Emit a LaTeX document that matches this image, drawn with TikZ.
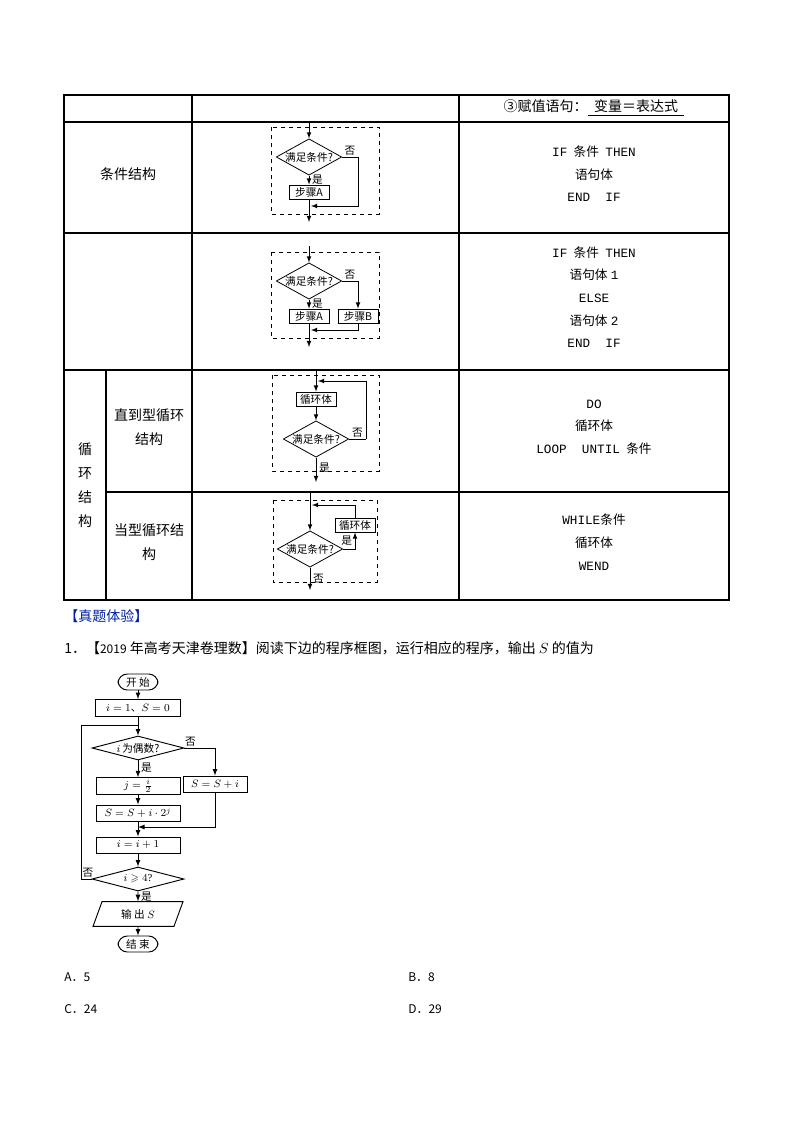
\documentclass[tikz,border=0pt]{standalone}
\usepackage{amssymb}
\usepackage{fontspec}
\setmainfont{Liberation Serif}
\newfontfamily\cjk{Noto Sans CJK SC}
\newfontfamily\mon{Liberation Mono}
\usetikzlibrary{shapes.geometric}
\tikzset{
 tl/.style={line width=0.8pt},
 dbox/.style={draw,dashed,line width=0.7pt},
 fc/.style={draw,line width=0.6pt,font=\cjk\fontsize{8}{9}\selectfont,inner sep=1pt},
 dia/.style={fc,diamond,aspect=1.8,minimum width=62\px,minimum height=34\px,inner sep=0pt},
 bx/.style={fc,rectangle,minimum width=40\px,minimum height=14\px},
 ar/.style={-latex,line width=0.6pt},
 ln/.style={line width=0.6pt},
 lab/.style={font=\cjk\fontsize{8}{9}\selectfont,inner sep=0pt},
 ct/.style={font=\cjk\fontsize{10.5}{12}\selectfont,align=center},
 cd/.style={font=\fontsize{9.5}{12}\selectfont,align=center},
}
\newcommand{\px}{*0.75pt}
\begin{document}
\begin{tikzpicture}[x=0.75pt,y=-0.75pt]
\useasboundingbox (0,0) rectangle (794,1123);
% table
\draw[tl] (64,95) rectangle (729,600);
\foreach \y in {122,233,370} \draw[tl] (64,\y)--(729,\y);
\draw[tl] (106,492)--(729,492);
\draw[tl] (192,95)--(192,600);
\draw[tl] (459,95)--(459,600);
\draw[tl] (106,370)--(106,600);
% column texts
\node[ct] (t0) at (594,108) {③赋值语句：\underline{\ \ 变量＝表达式\ \ }};
\node[ct] (t1) at (128,174) {条件结构};
\node[ct] (t2) at (85,485) {循\\[6pt]环\\[6pt]结\\[6pt]构};
\node[ct] (t3) at (149,427) {直到型循环\\[6pt]结构};
\node[ct] (t4) at (149,542) {当型循环结\\[6pt]构};
% code
\node[cd] (c1) at (594,174) {{\mon IF}\ \ {\cjk 条件}\ \ {\mon THEN}\\[5pt]{\cjk 语句体}\\[5pt]{\mon END\ \ IF}};
\node[cd] (c2) at (594,297) {{\mon IF}\ \ {\cjk 条件}\ \ {\mon THEN}\\[5pt]{\cjk 语句体} {\mon 1}\\[5pt]{\mon ELSE}\\[5pt]{\cjk 语句体} {\mon 2}\\[5pt]{\mon END\ \ IF}};
\node[cd] (c3) at (594,427) {{\mon DO}\\[5pt]{\cjk 循环体}\\[5pt]{\mon LOOP\ \ UNTIL}\ \ {\cjk 条件}};
\node[cd] (c4) at (594,542) {{\mon WHILE}{\cjk 条件}\\[5pt]{\cjk 循环体}\\[5pt]{\mon WEND}};
% flowchart 1
\draw[dbox] (271,127) rectangle (379,214);
\node[dia] (d1) at (309,157) {满足条件?};
\node[bx] (a1) at (309,192) {步骤\textit{A}};
\coordinate (e1) at (309,122);
\coordinate (o1) at (309,222);
\draw[ar] (e1)--(d1.north);
\draw[ar] (d1.south)--(a1.north) node[lab,pos=0.5,right=2pt] {是};
\draw[ln] (d1.east)--(358,157) node[lab,pos=0.5,above=1pt] {否};
\draw[ar] (358,157)--(358,206)--(311,206);
\draw[ar] (a1.south)--(o1);
% flowchart 2
\draw[dbox] (271,252) rectangle (379,338);
\node[dia] (d2) at (309,281) {满足条件?};
\node[bx] (a2) at (309,316) {步骤\textit{A}};
\node[bx] (b2) at (358,316) {步骤\textit{B}};
\coordinate (e2) at (309,246);
\coordinate (o2) at (309,347);
\draw[ar] (e2)--(d2.north);
\draw[ar] (d2.south)--(a2.north) node[lab,pos=0.5,right=2pt] {是};
\draw[ar] (d2.east)-|(b2.north) node[lab,pos=0.25,above=1pt] {否};
\draw[ar] (b2.south)|-(311,330);
\draw[ar] (a2.south)--(o2);
% flowchart 3
\draw[dbox] (272,375) rectangle (379,471);
\node[bx] (l3) at (316,399) {循环体};
\node[dia] (d3) at (316,439) {满足条件?};
\coordinate (e3) at (316,370);
\coordinate (o3) at (316,482);
\draw[ar] (e3)--(l3.north);
\draw[ar] (l3.south)--(d3.north);
\draw[ln] (d3.east)--(366,439) node[lab,pos=0.5,above=1pt] {否};
\draw[ar] (366,439)--(366,381)--(318,381);
\draw[ar] (d3.south)--(o3) node[lab,pos=0.4,right=2pt] {是};
% flowchart 4
\draw[dbox] (273,500) rectangle (377,582);
\node[dia] (d4) at (310,549) {满足条件?};
\node[bx] (l4) at (355,525) {循环体};
\coordinate (e4) at (310,492);
\coordinate (o4) at (310,590);
\draw[ar] (e4)--(d4.north);
\draw[ar] (d4.east)-|(l4.south) node[lab,pos=0.75,left=2pt] {是};
\draw[ar] (l4.north)|-(312,505);
\draw[ar] (d4.south)--(o4) node[lab,pos=0.5,right=2pt] {否};
% text
\node[anchor=west,font=\cjk\fontsize{10.5}{12}\selectfont,text={rgb,255:red,0;green,32;blue,160},inner sep=0pt] (h) at (64,616) {【真题体验】};
\node[anchor=west,font=\cjk\fontsize{10.5}{12}\selectfont,inner sep=0pt] (q) at (64,648) {1．【{\fontsize{9}{10}\selectfont 2019} 年高考天津卷理数】阅读下边的程序框图，运行相应的程序，输出 $S$ 的值为};
% bottom flowchart
\tikzset{bf/.style={draw,line width=0.7pt,font=\fontsize{8}{9}\selectfont,inner sep=1pt}}
\node[bf,rounded corners=7pt,minimum width=40\px,minimum height=16\px] (st) at (138,682) {\cjk 开\ 始};
\node[bf,minimum width=85\px,minimum height=17\px] (b1) at (138,708) {$i=1${\cjk 、}$S=0$};
\coordinate (j1) at (138,725);
\node[bf,diamond,aspect=3.8,minimum width=92\px,minimum height=24\px,inner sep=0pt] (dd1) at (138,748) {$i$\,{\cjk 为偶数?}};
\node[bf,minimum width=84\px,minimum height=16\px] (b2) at (138,786) {$j=\frac{i}{2}$};
\node[bf,minimum width=64\px,minimum height=16\px] (b3) at (215,784) {$S=S+i$};
\node[bf,minimum width=84\px,minimum height=16\px] (b4) at (138,813) {$S=S+i\cdot2^j$};
\coordinate (j2) at (138,827);
\node[bf,minimum width=84\px,minimum height=16\px] (b5) at (138,845) {$i=i+1$};
\node[bf,diamond,aspect=3.8,minimum width=92\px,minimum height=24\px,inner sep=0pt] (dd2) at (138,879) {$i\geqslant4$?};
\node[bf,trapezium,trapezium left angle=70,trapezium right angle=110,minimum width=90\px,minimum height=16\px] (b6) at (138,914) {{\cjk 输\ 出} $S$};
\node[bf,rounded corners=7pt,minimum width=40\px,minimum height=16\px] (en) at (138,944) {\cjk 结\ 束};
\tikzset{ba/.style={-latex,line width=0.7pt}}
\draw[ba] (st)--(b1);
\draw[ln] (b1)--(j1);
\draw[ba] (j1)--(dd1.north);
\draw[ba] (dd1.south)--(b2.north) node[lab,pos=0.4,right=2pt] {是};
\draw[ba] (dd1.east)-|(b3.north) node[lab,pos=0.1,above=1pt] {否};
\draw[ba] (b2)--(b4);
\draw[ln] (b4.south)--(j2);
\draw[ba] (b3.south)|-(j2);
\draw[ba] (j2)--(b5.north);
\draw[ba] (b5)--(dd2.north);
\draw[ln] (dd2.west)--(81,879)--(81,725)--(j1);
\node[lab] (no2) at (88,873) {否};
\draw[ba] (dd2.south)--(b6.north) node[lab,pos=0.5,right=2pt] {是};
\draw[ba] (b6)--(en);
% options
\tikzset{opt/.style={anchor=west,font=\cjk\fontsize{9}{11}\selectfont,inner sep=0pt}}
\node[opt] (oa) at (64,977) {A．5};
\node[opt] (ob) at (408,977) {B．8};
\node[opt] (oc) at (64,1009) {C．24};
\node[opt] (od) at (408,1009) {D．29};
\end{tikzpicture}
\end{document}
